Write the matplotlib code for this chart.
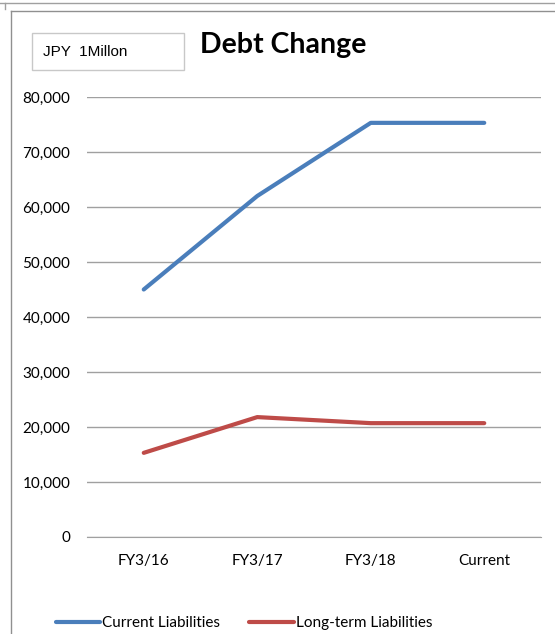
import matplotlib
matplotlib.use("Agg")
import matplotlib.pyplot as plt
from matplotlib.patches import Rectangle
from matplotlib.lines import Line2D
from matplotlib.ticker import FuncFormatter

periods = ["FY3/16", "FY3/17", "FY3/18", "Current"]
current_liabilities = [45000, 62000, 75300, 75300]
longterm_liabilities = [15300, 21800, 20700, 20700]
yticks = [0, 10000, 20000, 30000, 40000, 50000, 60000, 70000, 80000]

plt.rcParams['font.family'] = ['Lato', 'DejaVu Sans']

W, H = 555, 634
fig = plt.figure(figsize=(W / 100, H / 100), dpi=100)

# frames around the chart
fig.add_artist(Line2D([0, 1], [1 - 3 / H, 1 - 3 / H], color="#a0a0a0", lw=1))
fig.add_artist(Line2D([5 / W, 5 / W], [1 - 3 / H, 1 - 9 / H], color="#a0a0a0", lw=1))
fig.add_artist(Line2D([11 / W, 1], [1 - 11 / H, 1 - 11 / H], color="#909090", lw=1))
fig.add_artist(Line2D([11 / W, 11 / W], [0, 1 - 11 / H], color="#909090", lw=1))

ax = fig.add_axes([87 / W, 1 - 537 / H, (541 - 87) / W, (537 - 97) / H])
x = list(range(len(periods)))
ax.plot(x, current_liabilities, color="#4a7ebb", lw=3, solid_capstyle="round",
        label="Current Liabilities")
ax.plot(x, longterm_liabilities, color="#be4b48", lw=3, solid_capstyle="round",
        label="Long-term Liabilities")

ax.set_xlim(-0.5, 3.5)
ax.set_ylim(0, 80000)
ax.set_yticks(yticks)
ax.yaxis.set_major_formatter(FuncFormatter(lambda v, p: f"{int(v):,}"))
ax.set_xticks(x)
ax.set_xticklabels(periods)
ax.grid(axis="y", color="#a0a0a0", lw=1)
ax.set_axisbelow(True)
for s in ["top", "right", "left"]:
    ax.spines[s].set_visible(False)
ax.spines["bottom"].set_color("#a0a0a0")
ax.tick_params(axis="both", length=0, labelsize=11, colors="black")
ax.tick_params(axis="y", pad=12)
ax.tick_params(axis="x", pad=12)

# unit box and title
fig.add_artist(Rectangle((32 / W, 1 - 70 / H), (184 - 32) / W, (70 - 33) / H,
                         fill=False, edgecolor="#c8c8c8", lw=1))
fig.text(43 / W, 1 - 52 / H, "JPY  1Millon", fontsize=11, va="center", ha="left",
         family=["Liberation Sans", "DejaVu Sans"])
fig.text(200 / W, 1 - 45 / H, "Debt Change", fontsize=20.5, fontweight="bold",
         va="center", ha="left")

fig.legend(loc="center", bbox_to_anchor=(244 / W, 1 - 623 / H), ncol=2,
           frameon=False, fontsize=11, handlelength=2.9, handletextpad=0.15,
           columnspacing=1.9)

fig.savefig("out.png", dpi=100)
